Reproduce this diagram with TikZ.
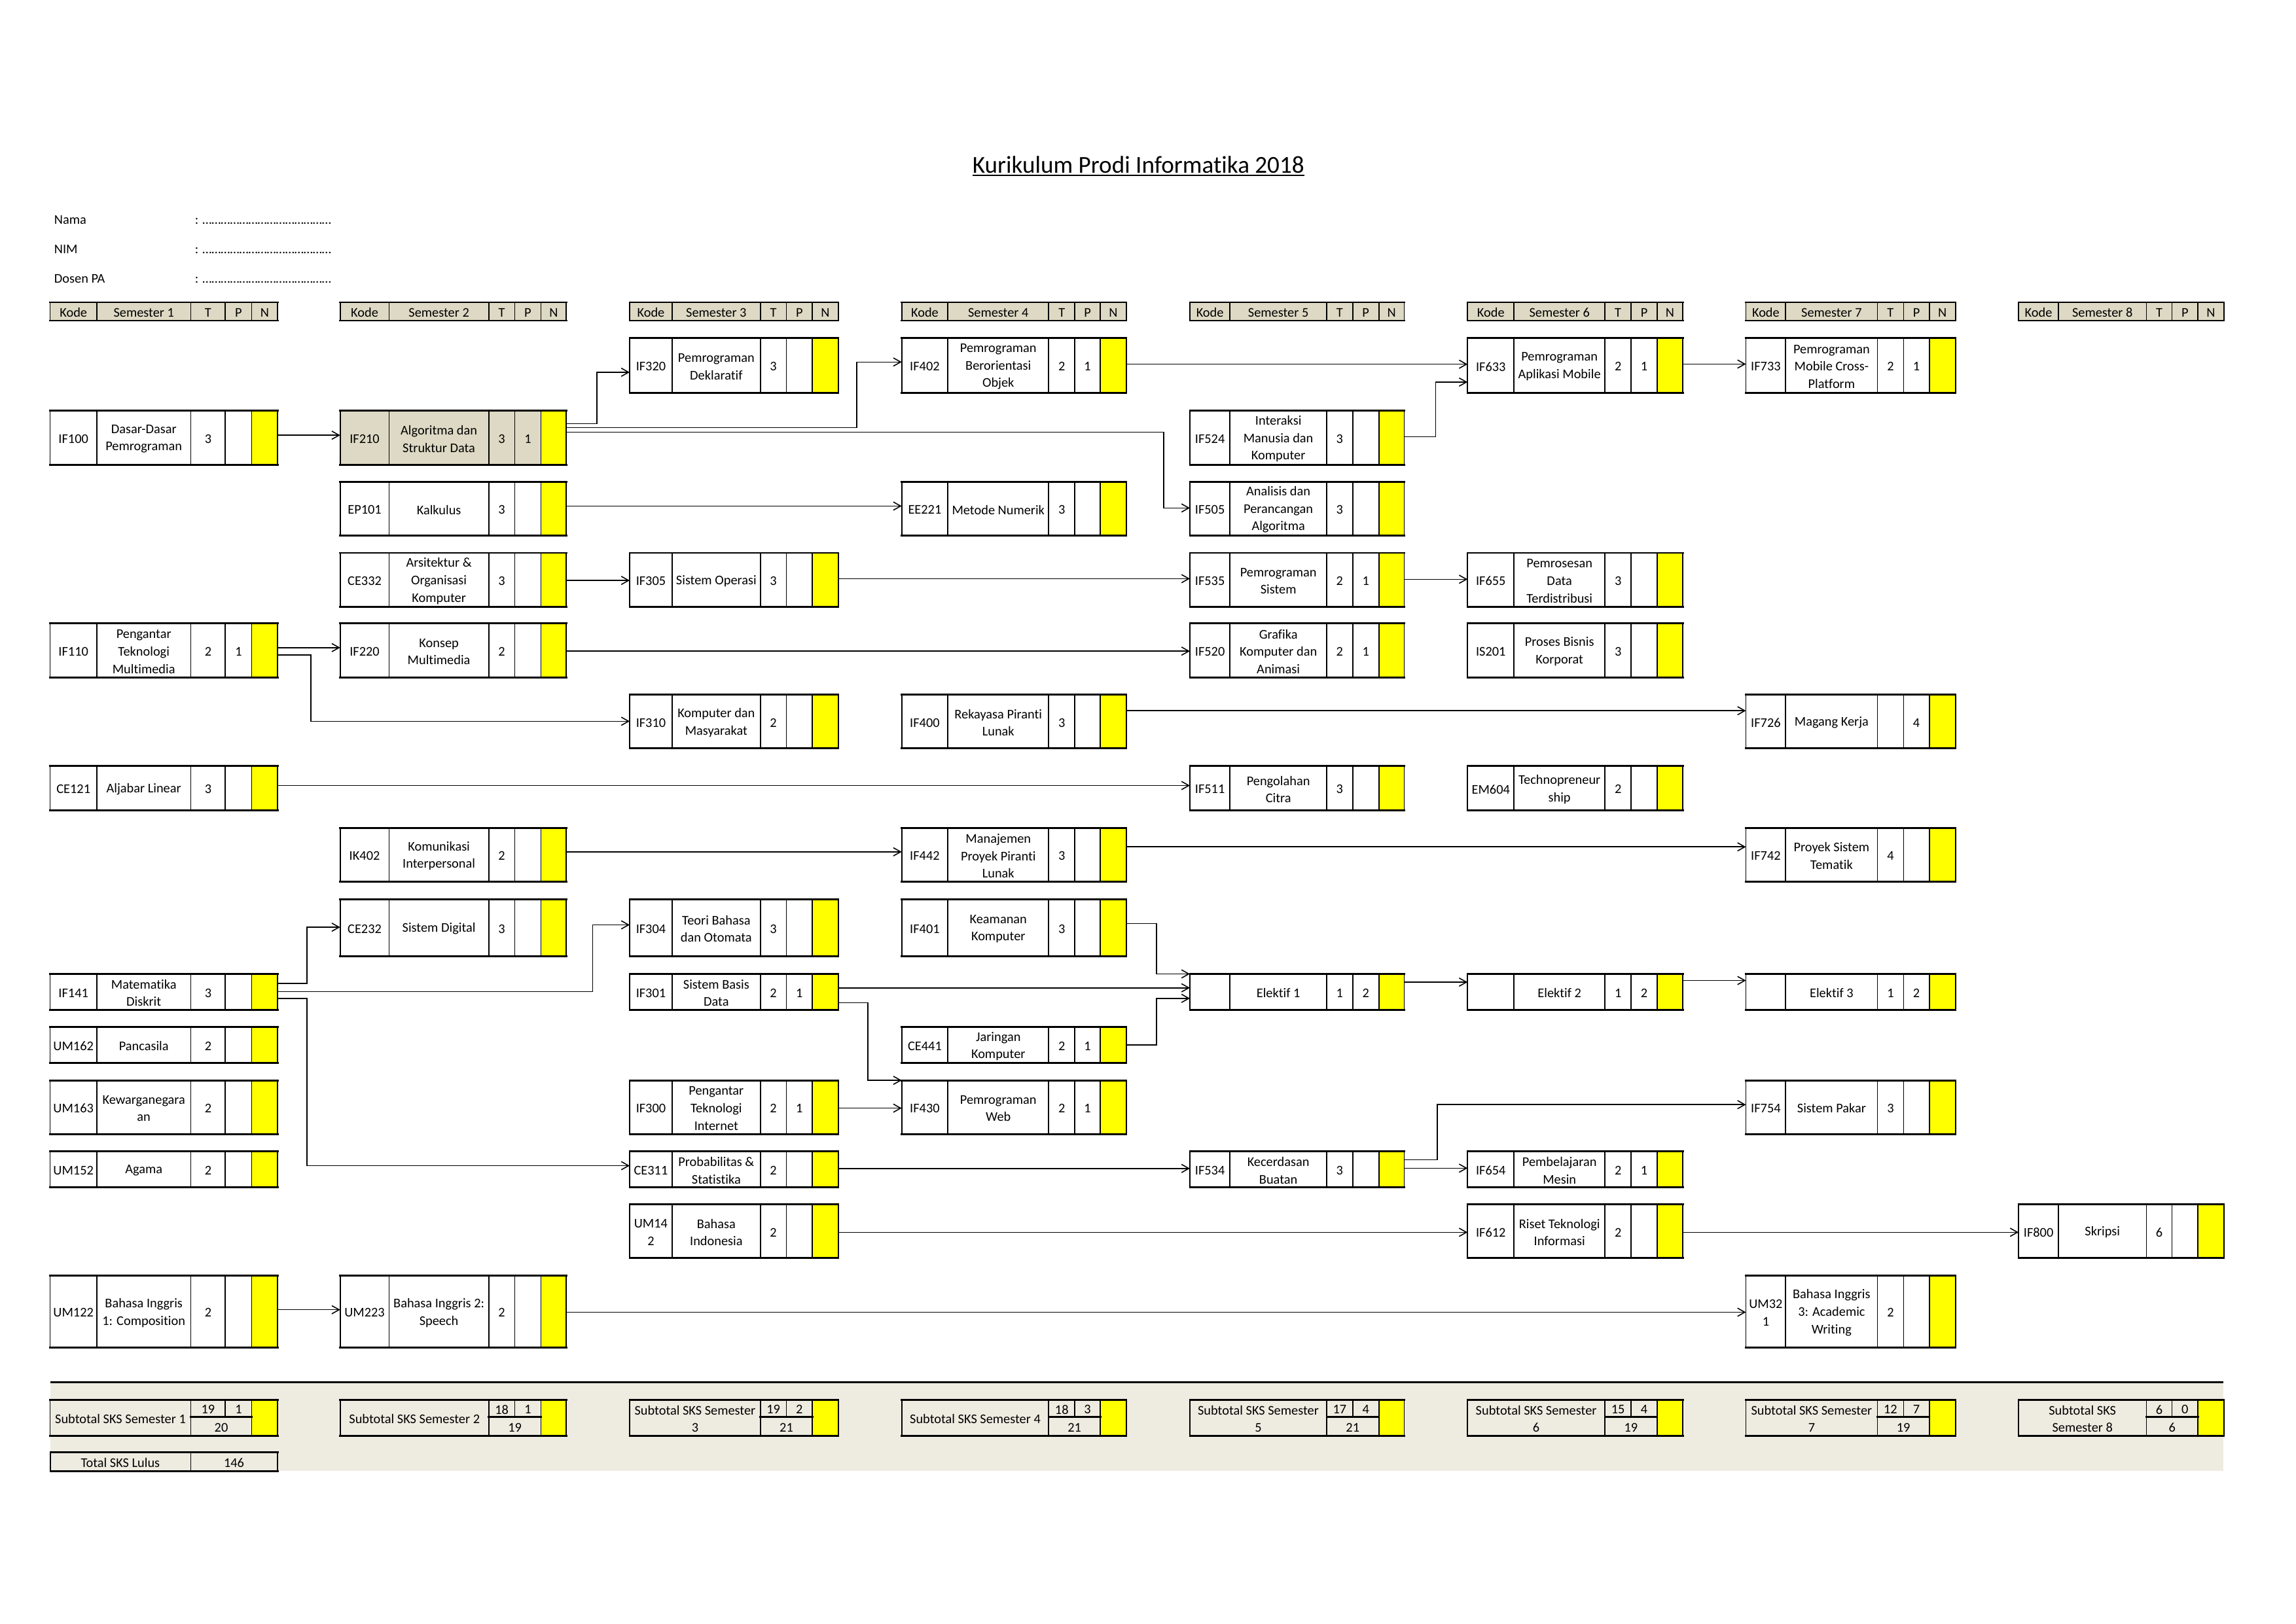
\documentclass[tikz,border=0pt]{standalone}
\usepackage{fontspec}
\setmainfont{Carlito}[Ligatures=NoCommon]
\usetikzlibrary{arrows.meta}
\definecolor{hdr}{HTML}{DDD9C4}
\definecolor{band}{HTML}{EEECE1}
\definecolor{yel}{HTML}{FFFF00}

\newcommand\setsem[6]{\def\xa{#1}\def\xb{#2}\def\xc{#3}\def\xd{#4}\def\xe{#5}\def\xf{#6}}
\newcommand\setrow[2]{\def\ya{#1}\def\yb{#2}}
\newcommand\rowA{\setrow{230.7}{268.6}}
\newcommand\rowB{\setrow{280.6}{317.4}}
\newcommand\rowC{\setrow{329.0}{365.8}}
\newcommand\rowD{\setrow{377.7}{414.5}}
\newcommand\rowE{\setrow{425.9}{462.8}}
\newcommand\rowF{\setrow{474.6}{511.3}}
\newcommand\rowG{\setrow{523.1}{553.7}}
\newcommand\rowH{\setrow{565.5}{602.4}}
\newcommand\rowI{\setrow{614.2}{653.3}}
\newcommand\rowJ{\setrow{665.3}{689.7}}
\newcommand\rowK{\setrow{701.5}{726.3}}
\newcommand\rowL{\setrow{738.0}{774.7}}
\newcommand\rowM{\setrow{786.3}{811.2}}
\newcommand\rowN{\setrow{822.8}{859.4}}
\newcommand\rowO{\setrow{871.4}{920.5}}

\newcommand\cellgrid{%
  \foreach \xx in {\xa,\xb,\xc,\xd,\xe,\xf} {\draw[vline] (\xx,\ya) -- (\xx,\yb);}
  \draw[hline] (\xa,\ya) -- (\xf,\ya);
  \draw[hline] (\xa,\yb) -- (\xf,\yb);
}

\newcommand\course[6][white]{%
  \fill[#1] (\xa,\ya) rectangle (\xe,\yb);
  \fill[yel] (\xe,\ya) rectangle (\xf,\yb);
  \node[boxnode, minimum width={(\xf-\xa)*1pt}, minimum height={(\yb-\ya)*1pt}] (#2) at ({(\xa+\xf)/2},{(\ya+\yb)/2}) {};
  \node[txt] (#2-k) at ({(\xa+\xb)/2},{(\ya+\yb)/2}) {#3};
  \node[txt] (#2-n) at ({(\xb+\xc)/2},{(\ya+\yb)/2}) {#4};
  \node[txt] (#2-t) at ({(\xc+\xd)/2},{(\ya+\yb)/2}) {#5};
  \node[txt] (#2-p) at ({(\xd+\xe)/2},{(\ya+\yb)/2}) {#6};
  \cellgrid
}

\newcommand\semhead[2]{%
  \setrow{206.5}{219.0}%
  \fill[hdr] (\xa,\ya) rectangle (\xf,\yb);
  \node[txt] (#1-k) at ({(\xa+\xb)/2},{(\ya+\yb)/2}) {Kode};
  \node[txt] (#1-n) at ({(\xb+\xc)/2},{(\ya+\yb)/2}) {Semester #2};
  \node[txt] (#1-t) at ({(\xc+\xd)/2},{(\ya+\yb)/2}) {T};
  \node[txt] (#1-p) at ({(\xd+\xe)/2},{(\ya+\yb)/2}) {P};
  \node[txt] (#1-q) at ({(\xe+\xf)/2},{(\ya+\yb)/2}) {N};
  \cellgrid
}

\newcommand\subtot[5]{%
  \def\ya{956.2}\def\ym{968.1}\def\yb{980.8}%
  \fill[yel] (\xe,\ya) rectangle (\xf,\yb);
  \node[txt] (#1-l) at ({(\xa+\xc)/2},{(\ya+\yb)/2}) {#2};
  \node[txt] (#1-t) at ({(\xc+\xd)/2},{(\ya+\ym)/2}) {#3};
  \node[txt] (#1-p) at ({(\xd+\xe)/2},{(\ya+\ym)/2}) {#4};
  \node[txt] (#1-s) at ({(\xc+\xe)/2},{(\ym+\yb)/2}) {#5};
  \foreach \xx in {\xa,\xc,\xe,\xf} {\draw[vline] (\xx,\ya) -- (\xx,\yb);}
  \draw[vline] (\xd,\ya) -- (\xd,\ym);
  \draw[hline] (\xa,\ya) -- (\xf,\ya);
  \draw[hline] (\xa,\yb) -- (\xf,\yb);
  \draw[hline] (\xc,\ym) -- (\xe,\ym);
}

\newcommand\straight[3]{%
  \coordinate (tS) at (0,#3);
  \draw[conn] (#1.east |- tS) -- (#2.west |- tS);
}
\newcommand\elbow[5]{%
  \coordinate (tS) at (0,#2);
  \coordinate (tB) at (#3,#2);
  \coordinate (tE) at (0,#5);
  \draw[conn] (#1.east |- tS) -- (tB) |- (#4.west |- tE);
}

\begin{document}
\begin{tikzpicture}[x=1pt,y=-1pt,
  txt/.style={inner sep=0pt, outer sep=0pt, align=center, yshift=-0.8pt, font=\fontsize{9.1}{11.9}\selectfont},
  boxnode/.style={inner sep=0pt, outer sep=0pt, rectangle},
  vline/.style={line width=0.8pt},
  hline/.style={line width=1.3pt, line cap=rect},
  conn/.style={line width=0.7pt, -{Straight Barb[length=5pt,width=5.6pt]}}]
\useasboundingbox (0,0) rectangle (1568,1109);
\fill[white] (0,0) rectangle (1568,1109);

% subtotal band
\fill[band] (34.5,944.2) rectangle (1518.5,1005);
\draw[line width=1.4pt] (34.5,944.2) -- (1518.5,944.2);

% title
\node[inner sep=0pt, anchor=base, font=\fontsize{16.6}{20}\selectfont] (title) at (777.45,118) {Kurikulum Prodi Informatika 2018};
\draw[line width=0.9pt] ([yshift=-2pt]title.base west) -- ([yshift=-2pt]title.base east);

% identity fields
\node[txt, anchor=base west] (nama) at (37.06,152.3) {Nama};
\node[txt, anchor=base west] (nim) at (37.06,172.2) {NIM};
\node[txt, anchor=base west] (dosen) at (37.06,192.4) {Dosen PA};
\node[txt, anchor=base west] (namaf) at (133.1,152.3) {: ……………………………………};
\node[txt, anchor=base west] (nimf) at (133.1,172.2) {: ……………………………………};
\node[txt, anchor=base west] (dosenf) at (133.1,192.4) {: ……………………………………};

% ---------- Semester 1
\setsem{34.2}{66.1}{130.3}{153.9}{171.9}{189.6}
\semhead{H1}{1}
\rowB \course{IF100}{IF100}{Dasar-Dasar\\Pemrograman}{3}{}
\rowE \course{IF110}{IF110}{Pengantar\\Teknologi\\Multimedia}{2}{1}
\rowG \course{CE121}{CE121}{Aljabar Linear}{3}{}
\rowJ \course{IF141}{IF141}{Matematika\\Diskrit}{3}{}
\rowK \course{UM162}{UM162}{Pancasila}{2}{}
\rowL \course{UM163}{UM163}{Kewarganegara\\an}{2}{}
\rowM \course{UM152}{UM152}{Agama}{2}{}
\rowO \course{UM122}{UM122}{Bahasa Inggris\\1: Composition}{2}{}
\subtot{S1}{Subtotal SKS Semester 1}{19}{1}{20}

% total
\def\ya{992}\def\yb{1005}
\node[txt] (tot-l) at (82.2,998.5) {Total SKS Lulus};
\node[txt] (tot-v) at (159.8,998.5) {146};
\foreach \xx in {34.5,130.3,189.6} {\draw[vline] (\xx,\ya) -- (\xx,\yb);}
\draw[hline] (34.5,\ya) -- (189.6,\ya);
\draw[hline] (34.5,\yb) -- (189.6,\yb);

% ---------- Semester 2
\setsem{232.3}{265.7}{333.8}{351.5}{369.4}{386.8}
\semhead{H2}{2}
\rowB \course[hdr]{IF210}{IF210}{Algoritma dan\\Struktur Data}{3}{1}
\rowC \course{EP101}{EP101}{Kalkulus}{3}{}
\rowD \course{CE332}{CE332}{Arsitektur \&\\Organisasi\\Komputer}{3}{}
\rowE \course{IF220}{IF220}{Konsep\\Multimedia}{2}{}
\rowH \course{IK402}{IK402}{Komunikasi\\Interpersonal}{2}{}
\rowI \course{CE232}{CE232}{Sistem Digital}{3}{}
\rowO \course{UM223}{UM223}{Bahasa Inggris 2:\\Speech}{2}{}
\subtot{S2}{Subtotal SKS Semester 2}{18}{1}{19}

% ---------- Semester 3
\setsem{430.0}{459.0}{519.3}{537.0}{554.8}{572.5}
\semhead{H3}{3}
\rowA \course{IF320}{IF320}{Pemrograman\\Deklaratif}{3}{}
\rowD \course{IF305}{IF305}{Sistem Operasi}{3}{}
\rowF \course{IF310}{IF310}{Komputer dan\\Masyarakat}{2}{}
\rowI \course{IF304}{IF304}{Teori Bahasa\\dan Otomata}{3}{}
\rowJ \course{IF301}{IF301}{Sistem Basis\\Data}{2}{1}
\rowL \course{IF300}{IF300}{Pengantar\\Teknologi\\Internet}{2}{1}
\rowM \course{CE311}{CE311}{Probabilitas \&\\Statistika}{2}{}
\rowN \course{UM142}{UM14\\2}{Bahasa\\Indonesia}{2}{}
\subtot{S3}{Subtotal SKS Semester\\3}{19}{2}{21}

% ---------- Semester 4
\setsem{615.8}{647.3}{716.2}{734.0}{751.4}{769.2}
\semhead{H4}{4}
\rowA \course{IF402}{IF402}{Pemrograman\\Berorientasi\\Objek}{2}{1}
\rowC \course{EE221}{EE221}{Metode Numerik}{3}{}
\rowF \course{IF400}{IF400}{Rekayasa Piranti\\Lunak}{3}{}
\rowH \course{IF442}{IF442}{Manajemen\\Proyek Piranti\\Lunak}{3}{}
\rowI \course{IF401}{IF401}{Keamanan\\Komputer}{3}{}
\rowK \course{CE441}{CE441}{Jaringan\\Komputer}{2}{1}
\rowL \course{IF430}{IF430}{Pemrograman\\Web}{2}{1}
\subtot{S4}{Subtotal SKS Semester 4}{18}{3}{21}

% ---------- Semester 5
\setsem{812.6}{840.0}{906.0}{923.8}{941.6}{959.0}
\semhead{H5}{5}
\rowB \course{IF524}{IF524}{Interaksi\\Manusia dan\\Komputer}{3}{}
\rowC \course{IF505}{IF505}{Analisis dan\\Perancangan\\Algoritma}{3}{}
\rowD \course{IF535}{IF535}{Pemrograman\\Sistem}{2}{1}
\rowE \course{IF520}{IF520}{Grafika\\Komputer dan\\Animasi}{2}{1}
\rowG \course{IF511}{IF511}{Pengolahan\\Citra}{3}{}
\rowJ \course{EL1}{}{Elektif 1}{1}{2}
\rowM \course{IF534}{IF534}{Kecerdasan\\Buatan}{3}{}
\subtot{S5}{Subtotal SKS Semester\\5}{17}{4}{21}

% ---------- Semester 6
\setsem{1002.2}{1034.0}{1096.0}{1114.0}{1131.6}{1149.3}
\semhead{H6}{6}
\rowA \course{IF633}{IF633}{Pemrograman\\Aplikasi Mobile}{2}{1}
\rowD \course{IF655}{IF655}{Pemrosesan\\Data\\Terdistribusi}{3}{}
\rowE \course{IS201}{IS201}{Proses Bisnis\\Korporat}{3}{}
\rowG \course{EM604}{EM604}{Technopreneur\\ship}{2}{}
\rowJ \course{EL2}{}{Elektif 2}{1}{2}
\rowM \course{IF654}{IF654}{Pembelajaran\\Mesin}{2}{1}
\rowN \course{IF612}{IF612}{Riset Teknologi\\Informasi}{2}{}
\subtot{S6}{Subtotal SKS Semester\\6}{15}{4}{19}

% ---------- Semester 7
\setsem{1192.3}{1219.5}{1282.1}{1300.0}{1317.6}{1335.4}
\semhead{H7}{7}
\rowA \course{IF733}{IF733}{Pemrograman\\Mobile Cross-\\Platform}{2}{1}
\rowF \course{IF726}{IF726}{Magang Kerja}{}{4}
\rowH \course{IF742}{IF742}{Proyek Sistem\\Tematik}{4}{}
\rowJ \course{EL3}{}{Elektif 3}{1}{2}
\rowL \course{IF754}{IF754}{Sistem Pakar}{3}{}
\rowO \course{UM321}{UM32\\1}{Bahasa Inggris\\3: Academic\\Writing}{2}{}
\subtot{S7}{Subtotal SKS Semester\\7}{12}{7}{19}

% ---------- Semester 8
\setsem{1378.5}{1405.8}{1465.8}{1483.3}{1501.0}{1518.8}
\semhead{H8}{8}
\rowN \course{IF800}{IF800}{Skripsi}{6}{}
\subtot{S8}{Subtotal SKS\\Semester 8}{6}{0}{6}

% ---------- connectors
\straight{IF100}{IF210}{297.3}
\elbow{IF210}{289.5}{407.6}{IF320}{254.3}
\elbow{IF210}{292.0}{585.1}{IF402}{247.3}
\elbow{IF210}{295.2}{794.6}{IF505}{347.0}
\straight{EP101}{EE221}{345.7}
\straight{IF402}{IF633}{248.8}
\elbow{IF524}{298.4}{980.5}{IF633}{261.0}
\straight{IF633}{IF733}{248.7}
\straight{CE332}{IF305}{396.5}
\straight{IF305}{IF535}{395.3}
\straight{IF535}{IF655}{395.7}
\straight{IF110}{IF220}{442.4}
\elbow{IF110}{447.4}{212.4}{IF310}{492.7}
\straight{IF220}{IF520}{444.8}
\straight{IF400}{IF726}{485.5}
\straight{CE121}{IF511}{536.6}
\straight{IK402}{IF442}{581.9}
\straight{IF442}{IF742}{578.5}
\elbow{IF141}{671.7}{209.7}{CE232}{633.4}
\elbow{IF141}{677.3}{404.8}{IF304}{631.8}
\elbow{IF141}{682.1}{209.7}{CE311}{796.3}
\straight{IF301}{EL1}{674.8}
\elbow{IF301}{685.0}{592.6}{IF430}{738.0}
\elbow{IF401}{630.9}{789.8}{EL1}{665.3}
\elbow{CE441}{713.8}{789.8}{EL1}{682.0}
\straight{IF300}{IF430}{757.0}
\straight{EL1}{EL2}{670.9}
\straight{EL2}{EL3}{669.8}
\straight{CE311}{IF534}{798.2}
\elbow{IF534}{792.2}{981.6}{IF754}{754.6}
\straight{IF534}{IF654}{798.0}
\straight{UM142}{IF612}{841.8}
\straight{IF612}{IF800}{841.8}
\straight{UM122}{UM223}{894.7}
\straight{UM223}{UM321}{896.4}
\end{tikzpicture}
\end{document}
